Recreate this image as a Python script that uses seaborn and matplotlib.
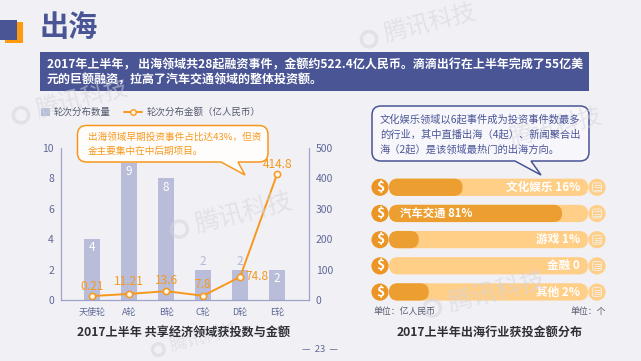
import numpy as np
import pandas as pd
import matplotlib
matplotlib.use("Agg")
import matplotlib.pyplot as plt
import matplotlib.patches as patches
from matplotlib.path import Path
import seaborn as sns

# left chart
rounds = ["天使轮", "A轮", "B轮", "C轮", "D轮", "E轮"]
round_counts = [4, 9, 8, 2, 2, 2]
# the line sits where it was drawn in the picture, labels are what it says
round_amounts = [13, 20, 29, 14, 76, 414.8]
amount_labels = ["0.21", "11.21", "13.6", "7.8", "74.8", "414.8"]

# right chart
sectors = ["文化娱乐", "汽车交通", "游戏", "金融", "其他"]
sector_fill = [37, 87, 15, 0, 20]
sector_track = [100, 100, 100, 100, 100]
sector_labels = ["文化娱乐 16%", "汽车交通 81%", "游戏 1%", "金融 0", "其他 2%"]

NAVY = "#4A5596"
ORANGE = "#F7981D"
BAR = "#B9BDDA"
BG = "#F1F1F5"
TICK = "#5F6898"
AXIS = "#9EA2CB"

sns.set_style("white")
plt.rcParams['font.family'] = ['Noto Sans CJK SC', 'DejaVu Sans']
plt.rcParams['axes.unicode_minus'] = False

W, H = 641, 361
fig = plt.figure(figsize=(W / 100, H / 100), dpi=100, facecolor=BG)


def px_axes(x0, y0, x1, y1):
    return fig.add_axes([x0 / W, 1 - y1 / H, (x1 - x0) / W, (y1 - y0) / H])


# 왼쪽 차트
ax = px_axes(61, 148, 309, 300)
ax.set_facecolor("none")
sns.barplot(x=rounds, y=round_counts, color=BAR, saturation=1, width=0.45, linewidth=0, ax=ax)
ax.set_ylim(0, 10)
ax.set_yticks([0, 2, 4, 6, 8, 10])
ax.set_xlim(-0.84, 5.86)
ax2 = ax.twinx()
ax2.set_facecolor("none")
sns.lineplot(x=rounds, y=round_amounts, sort=False, color=ORANGE, lw=1.4, marker="o", ms=4.5,
             mfc="#FFF7E8", mec=ORANGE, mew=1.1, ax=ax2)
ax2.set_ylim(0, 500)
ax2.set_yticks([0, 100, 200, 300, 400, 500])
ax2.set_xlim(-0.84, 5.86)

for a in [ax, ax2]:
    a.set_xlabel("")
    a.set_ylabel("")
    a.grid(False)
    a.spines["top"].set_visible(False)
    for s in ["left", "right", "bottom"]:
        a.spines[s].set_color(AXIS)
        a.spines[s].set_linewidth(0.8)
    a.tick_params(axis="y", length=0, labelsize=7.5, labelcolor=TICK, pad=5)
    a.tick_params(axis="x", length=0, labelsize=6.5, labelcolor=TICK, pad=6)

# 막대 라벨
for i, c in enumerate(round_counts):
    if i in (3, 4):
        ax.text(i, c + 0.1, str(c), ha="center", va="bottom", color="#B4B8D8", fontsize=8.5)
    else:
        ax.text(i, c - 0.15, str(c), ha="center", va="top", color="white", fontsize=8.5)

# 오른쪽 차트
bx = px_axes(389, 174.2, 588, 305)
bx.set_facecolor("none")
sns.barplot(y=sectors, x=sector_track, color="#FFCF88", saturation=1, width=0.66, linewidth=0, orient="h", ax=bx)
sns.barplot(y=sectors, x=sector_fill, color="#EC9F30", saturation=1, width=0.66, linewidth=0, orient="h", ax=bx)
bx.set_xlim(0, 100)
bx.axis("off")
# 둥근 막대로 교체
for p in list(bx.patches):
    px, py, pw, ph = p.get_x(), p.get_y(), p.get_width(), p.get_height()
    col = p.get_facecolor()
    p.remove()
    if pw <= 0:
        continue
    bx.add_patch(patches.FancyBboxPatch((px, py), pw, ph, boxstyle="round,pad=0,rounding_size=4.35",
                                        mutation_aspect=1.99 / 26.2, fc=col, ec="none"))
for i, t in enumerate(sector_labels):
    if i == 1:
        bx.text(5.5, i, t, ha="left", va="center", color="white", fontsize=8.2, fontweight="bold")
    else:
        bx.text(96, i, t, ha="right", va="center", color="white", fontsize=8.4, fontweight="bold")

# 장식 레이어
ov = fig.add_axes([0, 0, 1, 1])
ov.set_xlim(0, W)
ov.set_ylim(H, 0)
ov.axis("off")
ov.patch.set_alpha(0)

# 워터마크
ang = np.deg2rad(14)
for wx, wy, fs in [(430, 24, 17), (82, 100, 17), (244, 213, 18), (556, 128, 17), (497, 292, 18), (205, 338, 13)]:
    ov.text(wx, wy, "腾讯科技", rotation=14, color="#D4D4DC", alpha=0.55, fontsize=fs,
            ha="center", va="center")
    off = fs * 3.7
    ov.add_patch(patches.Circle((wx - off * np.cos(ang), wy + off * np.sin(ang)), fs * 0.45, fc="none",
                                ec="#D4D4DC", lw=2.5, alpha=0.55))

# 제목, 배너
ov.add_patch(patches.Rectangle((5, 22), 17.5, 21, fc="#FF9A0D", ec="none"))
ov.add_patch(patches.Rectangle((0, 20), 17, 20, fc=NAVY, ec="none"))
ov.text(40, 26.5, "出海", color=NAVY, fontsize=21, fontweight="bold", ha="left", va="center")
ov.add_patch(patches.Rectangle((40, 52), 549, 39, fc=NAVY, ec="none"))
ov.text(47, 64.5, "2017年上半年， 出海领域共28起融资事件，金额约522.4亿人民币。滴滴出行在上半年完成了55亿美",
        color="white", fontsize=8.65, fontweight="bold", ha="left", va="center")
ov.text(47, 80, "元的巨额融资，拉高了汽车交通领域的整体投资额。",
        color="white", fontsize=8.65, fontweight="bold", ha="left", va="center")

# 범례
ov.add_patch(patches.Rectangle((41, 107.5), 8.5, 8.5, fc=BAR, ec="none"))
ov.text(54, 112, "轮次分布数量", color="#555A6E", fontsize=6.8, ha="left", va="center")
ov.plot([124, 142], [112, 112], color=ORANGE, lw=1.4, marker="none")
ov.plot([133], [112], color=ORANGE, marker="o", ms=4, mfc="#FFF7E8", mec=ORANGE, mew=1)
ov.text(147, 112, "轮次分布金额（亿人民币）", color="#555A6E", fontsize=6.8, ha="left", va="center")


def callout(x0, y0, x1, y1, r, tail, ec, fc):
    # 둥근 말풍선, tail = (밑변 왼쪽, 밑변 오른쪽, 끝x, 끝y)
    a, b, tx, ty = tail
    verts = [(x0 + r, y0), (x1 - r, y0), (x1, y0), (x1, y0 + r), (x1, y1 - r), (x1, y1), (x1 - r, y1),
             (b, y1), (tx, ty), (a, y1), (x0 + r, y1), (x0, y1), (x0, y1 - r), (x0, y0 + r), (x0, y0),
             (x0 + r, y0), (x0 + r, y0)]
    codes = [Path.MOVETO, Path.LINETO, Path.CURVE3, Path.CURVE3, Path.LINETO, Path.CURVE3, Path.CURVE3,
             Path.LINETO, Path.LINETO, Path.LINETO, Path.LINETO, Path.CURVE3, Path.CURVE3, Path.LINETO,
             Path.CURVE3, Path.CURVE3, Path.CLOSEPOLY]
    ov.add_patch(patches.PathPatch(Path(verts, codes), fc=fc, ec=ec, lw=1.1))


callout(77.5, 125.5, 268, 162, 9, (221, 238, 245, 175), ORANGE, "#FEFDFB")
ov.text(88, 136.7, "出海领域早期投资事件占比达43%，但资", color=ORANGE, fontsize=6.9, ha="left", va="center")
ov.text(88, 151.5, "金主要集中在中后期项目。", color=ORANGE, fontsize=6.9, ha="left", va="center")

callout(372, 106, 589, 161, 9, (515, 531, 541, 175), NAVY, "#F7F7FB")
for ty, t in zip([119, 134, 149], ["文化娱乐领域以6起事件成为投资事件数最多", "的行业，其中直播出海（4起）、新闻聚合出",
                                   "海（2起）是该领域最热门的出海方向。"]):
    ov.text(380, ty, t, color=NAVY, fontsize=7.4, ha="left", va="center")

# 선 라벨은 말풍선 위에 그림
label_offset = [(0, 9.5), (0, 12), (0, 10.5), (0, 11), (17, 0), (0, 9.5)]
for i, t in enumerate(amount_labels):
    dx, dy = label_offset[i]
    ov.annotate(t, (i, round_amounts[i]), xycoords=ax2.transData, xytext=(dx * 0.72, dy * 0.72),
                textcoords="offset points", ha="center", va="center", color=ORANGE, fontsize=8.6,
                annotation_clip=False)

# 아이콘
for i in range(len(sectors)):
    yy = 187.3 + 26.2 * i
    ov.add_patch(patches.Circle((380, yy), 8.6, fc="#EC9524", ec="none"))
    ov.text(380, yy - 0.5, "$", color="white", fontsize=10, fontweight="bold", ha="center", va="center")
    ov.add_patch(patches.Circle((597, yy), 8.6, fc="#FFCF88", ec="none"))
    ov.add_patch(patches.FancyBboxPatch((592.5, yy - 4.5), 9, 9, boxstyle="round,pad=0,rounding_size=2",
                                        fc="none", ec="#F3F0EA", lw=0.6))
    for k in [-2.2, 0, 2.2]:
        ov.plot([593.5, 600.5], [yy + k, yy + k], color="#F3F0EA", lw=0.6)

ov.text(373, 311.5, "单位：亿人民币", color="#555A6E", fontsize=6.4, ha="left", va="center")
ov.text(606, 311.5, "单位：个", color="#555A6E", fontsize=6.4, ha="right", va="center")

ov.text(183.5, 332.5, "2017上半年 共享经济领域获投数与金额", color="#2F2F37", fontsize=8.7, fontweight="bold",
        ha="center", va="center")
ov.text(490, 332.5, "2017上半年出海行业获投金额分布", color="#2F2F37", fontsize=8.7, fontweight="bold",
        ha="center", va="center")
ov.text(320, 350, "—  23  —", color=TICK, fontsize=6.8, ha="center", va="center")

fig.savefig("out.png", dpi=100, facecolor=BG)
